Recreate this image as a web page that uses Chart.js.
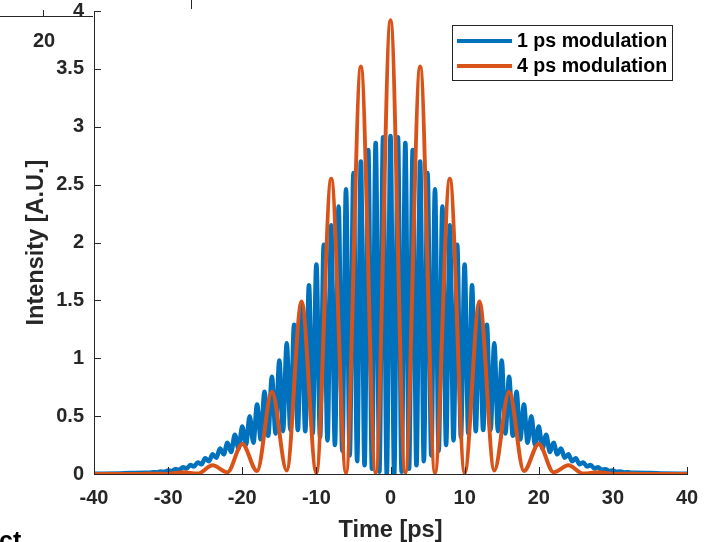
<!DOCTYPE html>
<html>
<head>
<meta charset="utf-8">
<script src="https://cdn.jsdelivr.net/npm/chart.js@4.4.1/dist/chart.umd.min.js"></script>
<style>
html,body{margin:0;padding:0;background:#ffffff;overflow:hidden;}
#wrap{position:relative;width:718px;height:542px;}
</style>
</head>
<body>
<div id="wrap"><canvas id="c" width="718" height="542"></canvas></div>
<script>
// ---------------- data ----------------
const seriesLabels = ['1 ps modulation', '4 ps modulation'];
const xTickValues = [-40, -30, -20, -10, 0, 10, 20, 30, 40];
const xTickLabels = ['-40', '-30', '-20', '-10', '0', '10', '20', '30', '40'];
const yTickValues = [0, 0.5, 1, 1.5, 2, 2.5, 3, 3.5, 4];
const yTickLabels = ['0', '0.5', '1', '1.5', '2', '2.5', '3', '3.5', '4'];

// 1 ps modulation: local maxima at integer times -33..33
const bluePeakTime = [-33,-32,-31,-30,-29,-28,-27,-26,-25,-24,-23,-22,-21,-20,-19,-18,-17,-16,-15,-14,-13,-12,-11,-10,-9,-8,-7,-6,-5,-4,-3,-2,-1,0,1,2,3,4,5,6,7,8,9,10,11,12,13,14,15,16,17,18,19,20,21,22,23,24,25,26,27,28,29,30,31,32,33];
const bluePeaks = [0.011,0.016,0.022,0.030,0.042,0.058,0.078,0.10,0.135,0.17,0.22,0.27,0.34,0.41,0.50,0.60,0.71,0.84,0.98,1.13,1.29,1.46,1.63,1.81,1.98,2.15,2.31,2.46,2.60,2.70,2.80,2.86,2.91,2.92,2.91,2.86,2.80,2.70,2.60,2.46,2.31,2.15,1.98,1.81,1.63,1.46,1.29,1.13,0.98,0.84,0.71,0.60,0.50,0.41,0.34,0.27,0.22,0.17,0.135,0.10,0.078,0.058,0.042,0.030,0.022,0.016,0.011];
// 1 ps modulation: local minima at half-integer times -32.5..32.5
const blueTroughTime = [-32.5,-31.5,-30.5,-29.5,-28.5,-27.5,-26.5,-25.5,-24.5,-23.5,-22.5,-21.5,-20.5,-19.5,-18.5,-17.5,-16.5,-15.5,-14.5,-13.5,-12.5,-11.5,-10.5,-9.5,-8.5,-7.5,-6.5,-5.5,-4.5,-3.5,-2.5,-1.5,-0.5,0.5,1.5,2.5,3.5,4.5,5.5,6.5,7.5,8.5,9.5,10.5,11.5,12.5,13.5,14.5,15.5,16.5,17.5,18.5,19.5,20.5,21.5,22.5,23.5,24.5,25.5,26.5,27.5,28.5,29.5,30.5,31.5,32.5];
const blueTroughs = [0.010,0.014,0.019,0.026,0.036,0.048,0.065,0.085,0.11,0.14,0.17,0.19,0.22,0.25,0.27,0.30,0.33,0.35,0.37,0.38,0.38,0.37,0.35,0.32,0.29,0.25,0.20,0.16,0.11,0.075,0.045,0.02,0.00,0.00,0.02,0.045,0.075,0.11,0.16,0.20,0.25,0.29,0.32,0.35,0.37,0.38,0.38,0.37,0.35,0.33,0.30,0.27,0.25,0.22,0.19,0.17,0.14,0.11,0.085,0.065,0.048,0.036,0.026,0.019,0.014,0.010];
// 1 ps modulation: flat tails
const blueTailTime = [-40, -36.5, 36.5, 40];
const blueTail = [0.002, 0.005, 0.005, 0.002];

// 4 ps modulation: extrema every 2 ps
const orangeTime = [-40,-38,-36,-34,-32,-30,-28,-26,-24,-22,-20,-18,-16,-14,-12,-10,-8,-6,-4,-2,0,2,4,6,8,10,12,14,16,18,20,22,24,26,28,30,32,34,36,38,40];
const orangeIntensity = [0,0,0,0,0.003,0.001,0.015,0.004,0.075,0.015,0.26,0.025,0.71,0.03,1.49,0.01,2.55,0.01,3.52,0.01,3.92,0.01,3.52,0.01,2.55,0.01,1.49,0.03,0.71,0.025,0.26,0.015,0.075,0.004,0.015,0.001,0.003,0,0,0,0];

// ---------------- build point lists ----------------
function toPoints(ts, vs){ return ts.map((t,i)=>({x:t, y:vs[i]})); }
const bluePoints = toPoints(bluePeakTime, bluePeaks)
  .concat(toPoints(blueTroughTime, blueTroughs))
  .concat(toPoints(blueTailTime, blueTail))
  .sort((a,b)=>a.x-b.x);
const orangePoints = toPoints(orangeTime, orangeIntensity);

const BLUE = '#0072BD';
const ORANGE = '#D95319';
const AX = '#262626';
const FONT = '"Liberation Sans", Arial, Helvetica, sans-serif';

const extras = {
  id: 'extras',
  afterDraw(chart){
    const ctx = chart.ctx;
    const xs = chart.scales.x, ys = chart.scales.y;
    const ca = chart.chartArea;
    ctx.save();
    // inward tick marks
    ctx.strokeStyle = AX; ctx.lineWidth = 1;
    ctx.beginPath();
    xTickValues.forEach(v=>{
      const px = Math.round(xs.getPixelForValue(v)) + 0.5;
      ctx.moveTo(px, ca.bottom); ctx.lineTo(px, ca.bottom - 7);
    });
    yTickValues.forEach(v=>{
      const py = Math.round(ys.getPixelForValue(v)) + 0.5;
      ctx.moveTo(ca.left, py); ctx.lineTo(ca.left + 7, py);
    });
    ctx.stroke();

    // legend box
    const lx = 452.5, ly = 25.5, lw = 220, lh = 55;
    ctx.fillStyle = '#ffffff';
    ctx.fillRect(lx, ly, lw, lh);
    ctx.strokeStyle = AX; ctx.lineWidth = 1;
    ctx.strokeRect(lx, ly, lw, lh);
    const rows = [{c:BLUE, y:41, t:seriesLabels[0]}, {c:ORANGE, y:66, t:seriesLabels[1]}];
    ctx.font = 'bold 19.6px ' + FONT;
    ctx.textBaseline = 'middle';
    ctx.textAlign = 'left';
    rows.forEach(r=>{
      ctx.strokeStyle = r.c; ctx.lineWidth = 4;
      ctx.beginPath(); ctx.moveTo(457, r.y); ctx.lineTo(512, r.y); ctx.stroke();
      ctx.fillStyle = '#000000';
      ctx.fillText(r.t, 517, r.y + 1);
    });

    // remnants of a neighbouring panel (cropped figure)
    ctx.strokeStyle = AX; ctx.lineWidth = 1;
    ctx.beginPath();
    ctx.moveTo(0, 16.5); ctx.lineTo(93, 16.5);
    ctx.moveTo(43.5, 10); ctx.lineTo(43.5, 16.5);
    ctx.moveTo(191.5, 0); ctx.lineTo(191.5, 9);
    ctx.stroke();
    ctx.fillStyle = AX;
    ctx.font = 'bold 20px ' + FONT;
    ctx.textAlign = 'center';
    ctx.textBaseline = 'middle';
    ctx.fillText('20', 44, 41);
    ctx.fillStyle = '#000000';
    ctx.font = 'bold 25px ' + FONT;
    ctx.textAlign = 'left';
    ctx.textBaseline = 'alphabetic';
    ctx.fillText('ct', -1, 549);
    ctx.restore();
  }
};

new Chart(document.getElementById('c').getContext('2d'), {
  type: 'line',
  data: {
    datasets: [
      { label: seriesLabels[0], data: bluePoints, borderColor: BLUE, backgroundColor: BLUE,
        borderWidth: 4.5, pointRadius: 0, cubicInterpolationMode: 'monotone', fill: false, order: 1 },
      { label: seriesLabels[1], data: orangePoints, borderColor: ORANGE, backgroundColor: ORANGE,
        borderWidth: 4, pointRadius: 0, cubicInterpolationMode: 'monotone', fill: false, order: 0 }
    ]
  },
  options: {
    responsive: false,
    animation: false,
    parsing: false,
    layout: { padding: { left: 0, top: 11, right: 31, bottom: 0 } },
    plugins: { legend: { display: false }, tooltip: { enabled: false } },
    scales: {
      x: {
        type: 'linear', min: -40, max: 40,
        afterBuildTicks(s){ s.ticks = xTickValues.map(v=>({value:v})); },
        ticks: { font: { family: FONT, size: 20, weight: 'bold' }, color: AX, padding: 12, maxRotation: 0, autoSkip: false,
                 callback: (v, i) => xTickLabels[i] },
        grid: { display: false, drawTicks: false },
        border: { display: true, color: AX, width: 1 },
        title: { display: true, text: 'Time [ps]', color: AX, font: { family: FONT, size: 23.5, weight: 'bold', lineHeight: 1.0 }, padding: { top: 0, bottom: 0 } },
        afterFit(s){ s.height = 68; s.paddingLeft = 0; s.paddingRight = 0; }
      },
      y: {
        type: 'linear', min: 0, max: 4,
        afterBuildTicks(s){ s.ticks = yTickValues.map(v=>({value:v})); },
        ticks: { font: { family: FONT, size: 20, weight: 'bold' }, color: AX, padding: 10, autoSkip: false,
                 callback: (v, i) => yTickLabels[i] },
        grid: { display: false, drawTicks: false },
        border: { display: true, color: AX, width: 1 },
        title: { display: true, text: 'Intensity [A.U.]', color: AX, font: { family: FONT, size: 23.5, weight: 'bold' }, padding: { top: 22, bottom: 0 } },
        afterFit(s){ s.width = 94; s.paddingTop = 0; s.paddingBottom = 0; }
      }
    }
  },
  plugins: [extras]
});
</script>
</body>
</html>
